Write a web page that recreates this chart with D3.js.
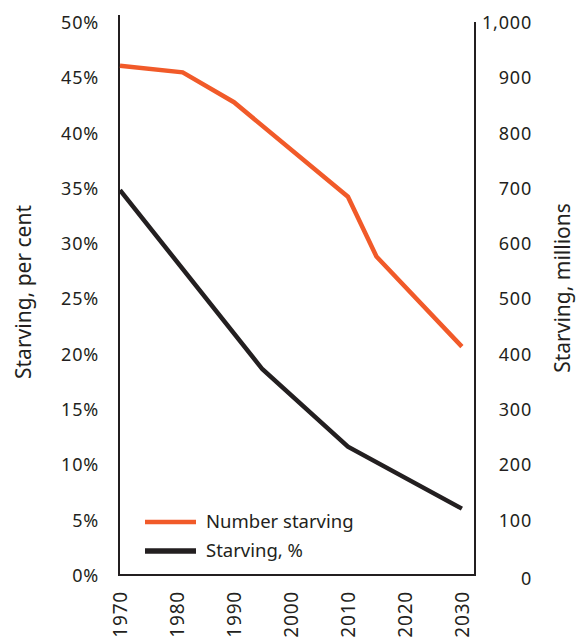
<!DOCTYPE html>
<html>
<head>
<meta charset="utf-8">
<script src="https://cdn.jsdelivr.net/npm/d3@7"></script>
<style>
  body { margin: 0; background: #fff; }
  svg text { font-family: "Noto Sans", sans-serif; fill: #231f20; }
</style>
</head>
<body>
<script>
var w = 577;
var h = 643;
var orange = "#f15a29";
var dark = "#231f20";

// data
var numberYears = [1970, 1981, 1990, 2010, 2015, 2030];
var numberStarving = [921, 909, 855, 684, 576, 413];   // millions
var percentYears = [1970, 1995, 2010, 2030];
var percentStarving = [34.8, 18.6, 11.6, 6.0];        // per cent

var yearTicks = [1970, 1980, 1990, 2000, 2010, 2020, 2030];
var percentTicks = [0, 5, 10, 15, 20, 25, 30, 35, 40, 45, 50];
var millionTicks = [0, 100, 200, 300, 400, 500, 600, 700, 800, 900, 1000];

var legendNames = ["Number starving", "Starving, %"];
var legendColors = [orange, dark];

// plot box
var boxLeft = 119, boxRight = 475, boxTop = 22, boxBottom = 575;

//Create scale functions
var xScale = d3.scaleLinear()
               .domain([1970, 2032.3])
               .range([boxLeft + 1, boxRight]);

var yLeft = d3.scaleLinear()
              .domain([0, 50])
              .range([boxBottom, boxTop]);

var yRight = d3.scaleLinear()
               .domain([0, 1000])
               .range([boxBottom, boxTop]);

//Create SVG element
var svg = d3.select("body")
            .append("svg")
            .attr("width", w)
            .attr("height", h);

//Left axis
var gl = svg.append("g")
    .attr("transform", "translate(" + boxLeft + ",0)")
    .call(d3.axisLeft(yLeft).tickValues(percentTicks).tickSize(0).tickPadding(20)
          .tickFormat(function(d) { return d + "%"; }));
gl.select(".domain").remove();
gl.selectAll("text")
  .style("font-size", "18px")
  .style("letter-spacing", "0.8px")
  .attr("dy", "0.36em");

//Right axis
var gr = svg.append("g")
    .attr("transform", "translate(" + boxRight + ",0)")
    .call(d3.axisRight(yRight).tickValues(millionTicks).tickSize(0)
          .tickFormat(d3.format(",")));
gr.select(".domain").remove();
gr.selectAll("text")
  .style("font-size", "18px")
  .style("letter-spacing", "0.8px")
  .attr("text-anchor", "end")
  .attr("x", 57)
  .attr("dy", "0.36em");
gr.selectAll(".tick").filter(function(d) { return d === 0; })
  .select("text").attr("dy", "0.5em");

//Bottom axis
var gb = svg.append("g")
    .attr("transform", "translate(0," + boxBottom + ")")
    .call(d3.axisBottom(xScale).tickValues(yearTicks).tickSize(0)
          .tickFormat(d3.format("d")));
gb.select(".domain").remove();
gb.selectAll("text")
  .style("font-size", "19px")
  .style("letter-spacing", "0.8px")
  .attr("transform", "rotate(-90)")
  .attr("text-anchor", "end")
  .attr("x", -16)
  .attr("y", 0)
  .attr("dy", "0.36em");

//Frame
svg.append("path")
   .attr("d", "M" + boxLeft + "," + (boxTop - 7) + "V" + boxBottom + "H" + boxRight + "V" + boxTop)
   .attr("fill", "none")
   .attr("stroke", dark)
   .attr("stroke-width", 2);

//Lines
var numberLine = d3.line()
    .x(function(d, i) { return xScale(numberYears[i]); })
    .y(function(d) { return yRight(d); });

var percentLine = d3.line()
    .x(function(d, i) { return xScale(percentYears[i]); })
    .y(function(d) { return yLeft(d); });

svg.append("path")
   .datum(numberStarving)
   .attr("d", numberLine)
   .attr("fill", "none")
   .attr("stroke", orange)
   .attr("stroke-width", 4.5);

svg.append("path")
   .datum(percentStarving)
   .attr("d", percentLine)
   .attr("fill", "none")
   .attr("stroke", dark)
   .attr("stroke-width", 4.5);

//Axis titles
svg.append("text")
   .attr("transform", "translate(31,292) rotate(-90)")
   .attr("text-anchor", "middle")
   .style("font-size", "21px")
   .text("Starving, per cent");

svg.append("text")
   .attr("transform", "translate(570,288) rotate(-90)")
   .attr("text-anchor", "middle")
   .style("font-size", "21px")
   .text("Starving, millions");

//Legend
var legend = svg.selectAll(".legend")
    .data(legendNames)
    .enter()
    .append("g")
    .attr("class", "legend")
    .attr("transform", function(d, i) { return "translate(145," + (522 + i * 29) + ")"; });

legend.append("line")
      .attr("x1", 0)
      .attr("x2", 51)
      .attr("stroke", function(d, i) { return legendColors[i]; })
      .attr("stroke-width", function(d, i) { return i === 0 ? 4.5 : 5.5; });

legend.append("text")
      .attr("x", 61)
      .attr("dy", "0.35em")
      .style("font-size", "18.5px")
      .text(function(d) { return d; });
</script>
</body>
</html>
